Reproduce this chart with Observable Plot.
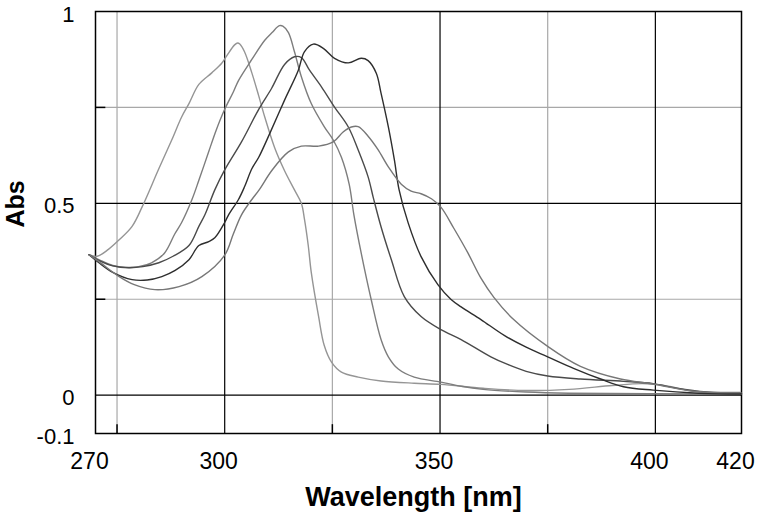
<!DOCTYPE html>
<html>
<head>
<meta charset="utf-8">
<script src="https://cdn.jsdelivr.net/npm/d3@7"></script>
<script src="https://cdn.jsdelivr.net/npm/@observablehq/plot@0.6"></script>
<style>
  html, body { margin: 0; padding: 0; background: #fff; }
  svg { display: block; }
</style>
</head>
<body>
<div id="chart"></div>
<script>
// Wavelength (nm) / absorbance readings for each of the five spectra
const nmA  = [268.5,270.4,273,275.5,278.5,280.8,284.7,287.7,290,291.7,294,297,299.3,300.5,302.3,303,303.5,304.6,306.3,307.9,309.3,311.6,313.9,316.2,317.8,318.5,319.4,320.1,321.8,323.1,324.8,327.1,331,336.3,344,350.2,360,370,380,390,397,402,410,420];
const absA = [0.366,0.362,0.38,0.405,0.44,0.49,0.59,0.665,0.725,0.76,0.81,0.84,0.865,0.885,0.913,0.918,0.915,0.895,0.84,0.78,0.725,0.645,0.585,0.535,0.50,0.46,0.39,0.32,0.205,0.13,0.086,0.06,0.047,0.037,0.031,0.028,0.018,0.012,0.015,0.025,0.03,0.025,0.008,0.005];

const nmB  = [268.5,271,274,277,280,283,286,288.4,290,292.4,294,296.3,298,300,302,303.2,306.3,309.3,311,312.7,313.5,314.8,316.2,317.8,320.1,323.1,325.2,327.1,328.9,330,331.7,334,336.3,338,340.3,344,350.2,354.9,360,370,380,420];
const absB = [0.366,0.352,0.338,0.333,0.335,0.345,0.37,0.42,0.45,0.51,0.56,0.635,0.69,0.745,0.79,0.82,0.875,0.925,0.945,0.963,0.962,0.945,0.895,0.83,0.76,0.70,0.665,0.62,0.55,0.47,0.37,0.25,0.145,0.10,0.068,0.047,0.034,0.023,0.015,0.008,0.005,0.003];

const nmC  = [268.5,271,274,277.8,281,284.7,288,291.7,294,295.4,297.7,300,303.9,307.9,310.9,313.9,316.2,317.8,319.7,322.5,325.5,328.7,331,333.3,334.5,336.3,338.7,341.7,345.6,350.2,354.9,361.8,365.7,370,375,382.6,392.6,399.5,405,412,420];
const absC = [0.366,0.35,0.337,0.332,0.335,0.345,0.362,0.39,0.44,0.47,0.535,0.587,0.66,0.745,0.80,0.862,0.882,0.88,0.847,0.803,0.751,0.699,0.639,0.569,0.515,0.439,0.353,0.257,0.205,0.171,0.145,0.10,0.08,0.062,0.05,0.042,0.036,0.03,0.018,0.008,0.004];

const nmD  = [268.5,270.8,274,278.5,282,285.4,288.5,291.7,294,296.3,297.7,300,300.9,303.2,304.6,306.3,307.9,310.5,313.9,317.1,318.5,320.6,322.9,325.5,328.7,331.7,333.3,335.2,336.3,338,339.4,340.5,342.6,345.6,349.5,352.5,354.9,359.5,365,370,375,381,387.3,392.6,399.5,410,420];
const absD = [0.366,0.345,0.32,0.301,0.30,0.309,0.325,0.353,0.39,0.40,0.41,0.45,0.47,0.51,0.543,0.59,0.62,0.683,0.769,0.847,0.895,0.915,0.904,0.878,0.866,0.878,0.872,0.839,0.787,0.699,0.613,0.535,0.449,0.361,0.288,0.25,0.23,0.197,0.155,0.125,0.10,0.07,0.042,0.022,0.013,0.005,0.003];

const nmE  = [268.5,270.8,275.5,279,283.8,289.4,294.7,300,302,303.9,306.3,308,310.9,314.8,317.8,321.8,325.2,327.5,329.4,331,333.3,335.6,338,341,343.3,345.6,348,350.2,353.2,356.5,359.5,362.5,367.1,375,382.6,391.9,399.5,408.8,419.7];
const absE = [0.366,0.348,0.309,0.288,0.275,0.283,0.309,0.365,0.42,0.47,0.51,0.535,0.585,0.634,0.649,0.649,0.66,0.686,0.699,0.70,0.675,0.64,0.595,0.55,0.532,0.525,0.512,0.49,0.435,0.37,0.305,0.255,0.197,0.127,0.075,0.042,0.029,0.010,0.007];

const seriesNames  = ["A", "B", "C", "D", "E"];
const seriesColors = ["#959595", "#7d7d7d", "#4a4a4a", "#2e2e2e", "#777777"];

const xTickLabels = [270, 300, 350, 400, 420];
const yTickLabels = [-0.1, 0, 0.5, 1];
const xMajorGrid = [300, 350, 400];
const xMinorGrid = [275, 325, 375];
const yMajorGrid = [0, 0.5];
const yMinorGrid = [0.25, 0.75];

const allNm  = [nmA, nmB, nmC, nmD, nmE];
const allAbs = [absA, absB, absC, absD, absE];
const rows = [];
seriesNames.forEach((s, i) => {
  allNm[i].forEach((w, j) => rows.push({series: s, nm: w, abs: allAbs[i][j]}));
});

const chart = Plot.plot({
  width: 760,
  height: 515,
  marginLeft: 95,
  marginRight: 19,
  marginTop: 11,
  marginBottom: 82,
  style: {fontFamily: "'Liberation Sans', Arial, sans-serif", color: "#000", background: "#fff"},
  x: {domain: [270, 420]},
  y: {domain: [-0.1, 1]},
  color: {domain: seriesNames, range: seriesColors},
  marks: [
    Plot.ruleX(xMinorGrid, {stroke: "#a8a8a8", strokeWidth: 1.2}),
    Plot.ruleY(yMinorGrid, {stroke: "#a8a8a8", strokeWidth: 1.2}),
    Plot.ruleX(xMajorGrid, {stroke: "#000", strokeWidth: 1.2}),
    Plot.ruleY(yMajorGrid, {stroke: "#000", strokeWidth: 1.2}),
    Plot.ruleX(xMinorGrid, {y1: -0.1, y2: -0.077, stroke: "#000", strokeWidth: 1.5}),
    Plot.ruleY(yMinorGrid, {x1: 270, x2: 272.4, stroke: "#000", strokeWidth: 1.5}),
    Plot.frame({stroke: "#000", strokeWidth: 1.5}),
    Plot.line(rows, {x: "nm", y: "abs", z: "series", stroke: "series", strokeWidth: 1.4, curve: "catmull-rom"}),
    Plot.axisX({ticks: xTickLabels, tickSize: 0, tickPadding: 19, fontSize: 23, dx: -6, label: null, tickFormat: d => String(d)}),
    Plot.axisY({ticks: yTickLabels, tickSize: 0, tickPadding: 21, fontSize: 22, dy: 3, label: null, tickFormat: d => String(d)}),
    Plot.text(["Wavelength [nm]"], {frameAnchor: "bottom", dy: 64, dx: -5, fontSize: 27, fontWeight: "bold", lineAnchor: "middle"}),
    Plot.text(["Abs"], {frameAnchor: "left", dx: -80, dy: 5, rotate: -90, fontSize: 25, fontWeight: "bold"})
  ]
});
document.getElementById("chart").appendChild(chart);
</script>
</body>
</html>
